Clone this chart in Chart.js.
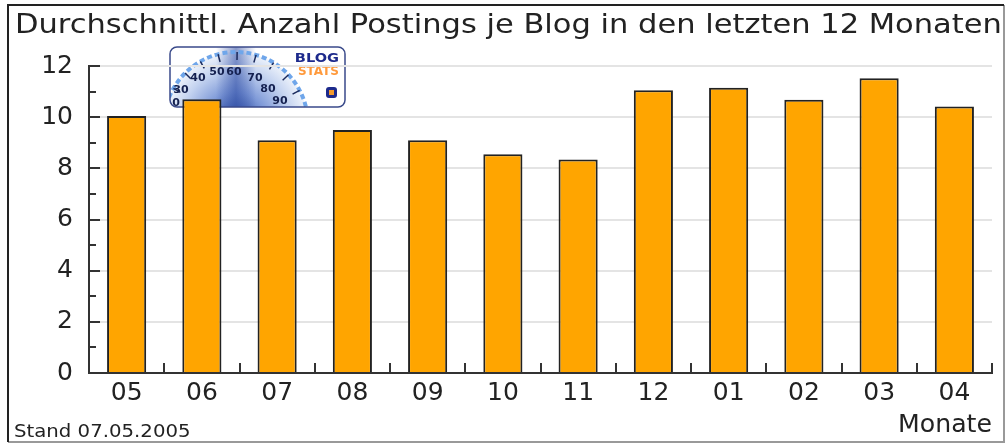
<!DOCTYPE html>
<html>
<head>
<meta charset="utf-8">
<script src="https://cdn.jsdelivr.net/npm/chart.js@4.4.0/dist/chart.umd.min.js"></script>
<style>
  html, body { margin: 0; padding: 0; background: #fff; }
  #blogChart { display: block; }
</style>
</head>
<body>
<canvas id="blogChart" width="1008" height="444"></canvas>
<script>
// Monate (Mai 2004 bis April 2005)
const months = ["05", "06", "07", "08", "09", "10", "11", "12", "01", "02", "03", "04"];
// durchschnittl. Postings je Blog
const postings = [10.05, 10.7, 9.1, 9.5, 9.1, 8.55, 8.35, 11.05, 11.15, 10.68, 11.52, 10.42];
const yTicks = [0, 2, 4, 6, 8, 10, 12];

const titleText = "Durchschnittl. Anzahl Postings je Blog in den letzten 12 Monaten";
const footerText = "Stand 07.05.2005";
const axisTitle = "Monate";
const FONT = "'DejaVu Sans', Verdana, sans-serif";

// Text etwas breiter zeichnen (Original ist horizontal gestreckt)
function wideText(ctx, text, x, y, font, stretch, align) {
  ctx.save();
  ctx.font = font;
  ctx.textAlign = align || "left";
  ctx.textBaseline = "alphabetic";
  ctx.translate(x, y);
  ctx.scale(stretch, 1);
  ctx.fillText(text, 0, 0);
  ctx.restore();
}

// kleines "Blog Stats" Logo (Tacho) hinter dem Diagramm
function drawLogo(ctx) {
  const x = 170, y = 47, w = 175, h = 60, r = 7;
  ctx.save();
  ctx.beginPath();
  ctx.roundRect(x, y, w, h, r);
  ctx.fillStyle = "#fff";
  ctx.fill();
  ctx.clip();

  const cx = 236, cy = 124;
  const grad = ctx.createRadialGradient(cx, cy, 5, cx, cy, 72);
  grad.addColorStop(0, "#2a4aa0");
  grad.addColorStop(0.4, "#7f9ad8");
  grad.addColorStop(0.75, "#c4d3f0");
  grad.addColorStop(1, "#eef3fb");
  ctx.fillStyle = grad;
  ctx.beginPath();
  ctx.arc(cx, cy, 72, Math.PI, 2 * Math.PI);
  ctx.fill();

  // heller Streifen in der Mitte
  const band = ctx.createLinearGradient(cx - 20, 0, cx + 20, 0);
  band.addColorStop(0, "rgba(40,70,160,0)");
  band.addColorStop(0.5, "rgba(40,70,160,0.55)");
  band.addColorStop(1, "rgba(40,70,160,0)");
  ctx.fillStyle = band;
  ctx.fillRect(cx - 20, y, 40, h);

  // Skala
  ctx.strokeStyle = "#6fa6ea";
  ctx.lineWidth = 4;
  ctx.setLineDash([5, 3]);
  ctx.beginPath();
  ctx.arc(cx, cy, 72, Math.PI * 1.05, Math.PI * 1.95);
  ctx.stroke();
  ctx.setLineDash([]);
  ctx.strokeStyle = "#1b2a5c";
  ctx.lineWidth = 1.5;
  for (let i = 0; i <= 10; i++) {
    const a = Math.PI * (1.08 + i * 0.085);
    ctx.beginPath();
    ctx.moveTo(cx + Math.cos(a) * 64, cy + Math.sin(a) * 64);
    ctx.lineTo(cx + Math.cos(a) * 72, cy + Math.sin(a) * 72);
    ctx.stroke();
  }
  ctx.fillStyle = "#14204f";
  ctx.font = "bold 11px " + FONT;
  ctx.textAlign = "center";
  ctx.textBaseline = "middle";
  [["0", 176, 103], ["30", 181, 90], ["40", 198, 78], ["50", 217, 72], ["60", 234, 72],
   ["70", 255, 78], ["80", 268, 89], ["90", 280, 101]].forEach(([t, tx, ty]) => ctx.fillText(t, tx, ty));

  ctx.textBaseline = "alphabetic";
  ctx.fillStyle = "#1d2a8c";
  wideText(ctx, "BLOG", 339, 62, "bold 13px " + FONT, 1.12, "right");
  ctx.fillStyle = "#ff9a3c";
  wideText(ctx, "STATS", 339, 75, "bold 12px " + FONT, 1.0, "right");

  ctx.fillStyle = "#1d2a8c";
  ctx.beginPath();
  ctx.roundRect(326, 87, 11, 11, 3);
  ctx.fill();
  ctx.fillStyle = "#f39a2c";
  ctx.fillRect(329, 90, 5, 5);
  ctx.restore();

  ctx.save();
  ctx.strokeStyle = "#3a4a8a";
  ctx.lineWidth = 1.5;
  ctx.beginPath();
  ctx.roundRect(x, y, w, h, r);
  ctx.stroke();
  ctx.restore();
}

const decorPlugin = {
  id: "decor",
  beforeDraw(chart) {
    const ctx = chart.ctx;
    ctx.save();
    ctx.fillStyle = "#fff";
    ctx.fillRect(0, 0, chart.width, chart.height);
    ctx.restore();
    drawLogo(ctx);
  },
  afterDraw(chart) {
    const ctx = chart.ctx;
    const xs = chart.scales.x, ys = chart.scales.y;
    const area = chart.chartArea;
    ctx.save();
    ctx.strokeStyle = "#333";
    ctx.lineWidth = 2;
    // Striche an der y-Achse nach innen
    for (let v = ys.min; v <= ys.max; v++) {
      const py = Math.round(ys.getPixelForValue(v));
      const len = v % 2 === 0 ? 11 : 7;
      ctx.beginPath();
      ctx.moveTo(area.left, py);
      ctx.lineTo(area.left + len, py);
      ctx.stroke();
    }
    // Striche zwischen den Kategorien
    const step = xs.getPixelForValue(1) - xs.getPixelForValue(0);
    for (let i = 0; i < months.length; i++) {
      const px = Math.round(xs.getPixelForValue(i) + step / 2);
      ctx.beginPath();
      ctx.moveTo(px, area.bottom);
      ctx.lineTo(px, area.bottom - 10);
      ctx.stroke();
    }

    ctx.fillStyle = "#222";
    wideText(ctx, titleText, 15, 33, "27px " + FONT, 1.13, "left");
    wideText(ctx, axisTitle, area.right, 432, "24px " + FONT, 1.05, "right");
    wideText(ctx, footerText, 14, 437, "17px " + FONT, 1.16, "left");

    // Rahmen
    ctx.lineWidth = 2;
    ctx.strokeStyle = "#999";
    ctx.beginPath();
    ctx.moveTo(1004, 5);
    ctx.lineTo(1004, 442);
    ctx.lineTo(8, 442);
    ctx.stroke();
    ctx.strokeStyle = "#222";
    ctx.beginPath();
    ctx.moveTo(8, 442);
    ctx.lineTo(8, 5);
    ctx.lineTo(1004, 5);
    ctx.stroke();
    ctx.restore();
  }
};

new Chart(document.getElementById("blogChart"), {
  type: "bar",
  data: {
    labels: months,
    datasets: [{
      data: postings,
      backgroundColor: "#ffa500",
      borderColor: "#222",
      borderWidth: 2,
      borderSkipped: "bottom",
      categoryPercentage: 1,
      barPercentage: 0.52
    }]
  },
  options: {
    responsive: false,
    animation: false,
    devicePixelRatio: 1,
    layout: { padding: { top: 66, left: 15, right: 16, bottom: 0 } },
    plugins: {
      legend: { display: false },
      title: { display: false },
      tooltip: { enabled: false }
    },
    scales: {
      x: {
        grid: { display: false, drawTicks: false },
        border: { display: true, color: "#333", width: 2 },
        ticks: { color: "#222", padding: 5, font: { family: FONT, size: 25 }, maxRotation: 0 },
        afterFit(scale) { scale.height = 71; }
      },
      y: {
        min: 0,
        max: 12,
        afterBuildTicks(scale) { scale.ticks = yTicks.map(v => ({ value: v })); },
        grid: { color: "#e4e4e4", lineWidth: 2, drawTicks: false },
        border: { display: true, color: "#333", width: 2 },
        ticks: { color: "#222", padding: 16, font: { family: FONT, size: 25 } },
        afterFit(scale) { scale.width = 74; }
      }
    }
  },
  plugins: [decorPlugin]
});
</script>
</body>
</html>
